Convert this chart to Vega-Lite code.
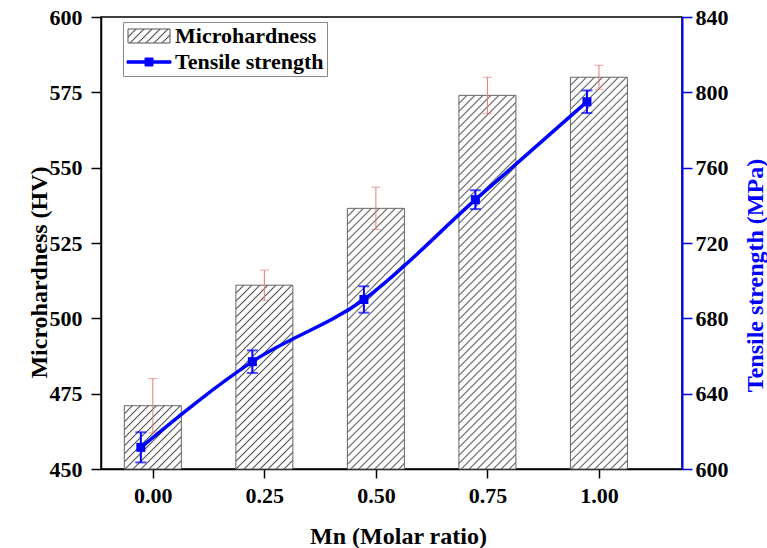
{
  "$schema": "https://vega.github.io/schema/vega-lite/v6.json",
  "width": 581,
  "height": 452,
  "autosize": "none",
  "padding": {"left": 101, "top": 17, "right": 85, "bottom": 79},
  "background": "white",
  "config": {"view": {"stroke": "black", "strokeWidth": 1.5}, "font": "Liberation Serif"},
  "params": [
    {
      "name": "hatch",
      "value": [
        {"offset": 0, "color": "#555"}, {"offset": 0.003, "color": "#fff"}, {"offset": 0.0137, "color": "#fff"},
        {"offset": 0.0167, "color": "#555"}, {"offset": 0.0197, "color": "#fff"}, {"offset": 0.0304, "color": "#fff"},
        {"offset": 0.0333, "color": "#555"}, {"offset": 0.0363, "color": "#fff"}, {"offset": 0.047, "color": "#fff"},
        {"offset": 0.05, "color": "#555"}, {"offset": 0.053, "color": "#fff"}, {"offset": 0.0637, "color": "#fff"},
        {"offset": 0.0667, "color": "#555"}, {"offset": 0.0697, "color": "#fff"}, {"offset": 0.0804, "color": "#fff"},
        {"offset": 0.0833, "color": "#555"}, {"offset": 0.0863, "color": "#fff"}, {"offset": 0.097, "color": "#fff"},
        {"offset": 0.1, "color": "#555"}, {"offset": 0.103, "color": "#fff"}, {"offset": 0.1137, "color": "#fff"},
        {"offset": 0.1167, "color": "#555"}, {"offset": 0.1197, "color": "#fff"}, {"offset": 0.1304, "color": "#fff"},
        {"offset": 0.1333, "color": "#555"}, {"offset": 0.1363, "color": "#fff"}, {"offset": 0.147, "color": "#fff"},
        {"offset": 0.15, "color": "#555"}, {"offset": 0.153, "color": "#fff"}, {"offset": 0.1637, "color": "#fff"},
        {"offset": 0.1667, "color": "#555"}, {"offset": 0.1697, "color": "#fff"}, {"offset": 0.1804, "color": "#fff"},
        {"offset": 0.1833, "color": "#555"}, {"offset": 0.1863, "color": "#fff"}, {"offset": 0.197, "color": "#fff"},
        {"offset": 0.2, "color": "#555"}, {"offset": 0.203, "color": "#fff"}, {"offset": 0.2137, "color": "#fff"},
        {"offset": 0.2167, "color": "#555"}, {"offset": 0.2197, "color": "#fff"}, {"offset": 0.2304, "color": "#fff"},
        {"offset": 0.2333, "color": "#555"}, {"offset": 0.2363, "color": "#fff"}, {"offset": 0.247, "color": "#fff"},
        {"offset": 0.25, "color": "#555"}, {"offset": 0.253, "color": "#fff"}, {"offset": 0.2637, "color": "#fff"},
        {"offset": 0.2667, "color": "#555"}, {"offset": 0.2697, "color": "#fff"}, {"offset": 0.2804, "color": "#fff"},
        {"offset": 0.2833, "color": "#555"}, {"offset": 0.2863, "color": "#fff"}, {"offset": 0.297, "color": "#fff"},
        {"offset": 0.3, "color": "#555"}, {"offset": 0.303, "color": "#fff"}, {"offset": 0.3137, "color": "#fff"},
        {"offset": 0.3167, "color": "#555"}, {"offset": 0.3197, "color": "#fff"}, {"offset": 0.3304, "color": "#fff"},
        {"offset": 0.3333, "color": "#555"}, {"offset": 0.3363, "color": "#fff"}, {"offset": 0.347, "color": "#fff"},
        {"offset": 0.35, "color": "#555"}, {"offset": 0.353, "color": "#fff"}, {"offset": 0.3637, "color": "#fff"},
        {"offset": 0.3667, "color": "#555"}, {"offset": 0.3697, "color": "#fff"}, {"offset": 0.3804, "color": "#fff"},
        {"offset": 0.3833, "color": "#555"}, {"offset": 0.3863, "color": "#fff"}, {"offset": 0.397, "color": "#fff"},
        {"offset": 0.4, "color": "#555"}, {"offset": 0.403, "color": "#fff"}, {"offset": 0.4137, "color": "#fff"},
        {"offset": 0.4167, "color": "#555"}, {"offset": 0.4197, "color": "#fff"}, {"offset": 0.4304, "color": "#fff"},
        {"offset": 0.4333, "color": "#555"}, {"offset": 0.4363, "color": "#fff"}, {"offset": 0.447, "color": "#fff"},
        {"offset": 0.45, "color": "#555"}, {"offset": 0.453, "color": "#fff"}, {"offset": 0.4637, "color": "#fff"},
        {"offset": 0.4667, "color": "#555"}, {"offset": 0.4697, "color": "#fff"}, {"offset": 0.4804, "color": "#fff"},
        {"offset": 0.4833, "color": "#555"}, {"offset": 0.4863, "color": "#fff"}, {"offset": 0.497, "color": "#fff"},
        {"offset": 0.5, "color": "#555"}, {"offset": 0.503, "color": "#fff"}, {"offset": 0.5137, "color": "#fff"},
        {"offset": 0.5167, "color": "#555"}, {"offset": 0.5197, "color": "#fff"}, {"offset": 0.5304, "color": "#fff"},
        {"offset": 0.5333, "color": "#555"}, {"offset": 0.5363, "color": "#fff"}, {"offset": 0.547, "color": "#fff"},
        {"offset": 0.55, "color": "#555"}, {"offset": 0.553, "color": "#fff"}, {"offset": 0.5637, "color": "#fff"},
        {"offset": 0.5667, "color": "#555"}, {"offset": 0.5697, "color": "#fff"}, {"offset": 0.5804, "color": "#fff"},
        {"offset": 0.5833, "color": "#555"}, {"offset": 0.5863, "color": "#fff"}, {"offset": 0.597, "color": "#fff"},
        {"offset": 0.6, "color": "#555"}, {"offset": 0.603, "color": "#fff"}, {"offset": 0.6137, "color": "#fff"},
        {"offset": 0.6167, "color": "#555"}, {"offset": 0.6197, "color": "#fff"}, {"offset": 0.6304, "color": "#fff"},
        {"offset": 0.6333, "color": "#555"}, {"offset": 0.6363, "color": "#fff"}, {"offset": 0.647, "color": "#fff"},
        {"offset": 0.65, "color": "#555"}, {"offset": 0.653, "color": "#fff"}, {"offset": 0.6637, "color": "#fff"},
        {"offset": 0.6667, "color": "#555"}, {"offset": 0.6697, "color": "#fff"}, {"offset": 0.6804, "color": "#fff"},
        {"offset": 0.6833, "color": "#555"}, {"offset": 0.6863, "color": "#fff"}, {"offset": 0.697, "color": "#fff"},
        {"offset": 0.7, "color": "#555"}, {"offset": 0.703, "color": "#fff"}, {"offset": 0.7137, "color": "#fff"},
        {"offset": 0.7167, "color": "#555"}, {"offset": 0.7197, "color": "#fff"}, {"offset": 0.7304, "color": "#fff"},
        {"offset": 0.7333, "color": "#555"}, {"offset": 0.7363, "color": "#fff"}, {"offset": 0.747, "color": "#fff"},
        {"offset": 0.75, "color": "#555"}, {"offset": 0.753, "color": "#fff"}, {"offset": 0.7637, "color": "#fff"},
        {"offset": 0.7667, "color": "#555"}, {"offset": 0.7697, "color": "#fff"}, {"offset": 0.7804, "color": "#fff"},
        {"offset": 0.7833, "color": "#555"}, {"offset": 0.7863, "color": "#fff"}, {"offset": 0.797, "color": "#fff"},
        {"offset": 0.8, "color": "#555"}, {"offset": 0.803, "color": "#fff"}, {"offset": 0.8137, "color": "#fff"},
        {"offset": 0.8167, "color": "#555"}, {"offset": 0.8197, "color": "#fff"}, {"offset": 0.8304, "color": "#fff"},
        {"offset": 0.8333, "color": "#555"}, {"offset": 0.8363, "color": "#fff"}, {"offset": 0.847, "color": "#fff"},
        {"offset": 0.85, "color": "#555"}, {"offset": 0.853, "color": "#fff"}, {"offset": 0.8637, "color": "#fff"},
        {"offset": 0.8667, "color": "#555"}, {"offset": 0.8697, "color": "#fff"}, {"offset": 0.8804, "color": "#fff"},
        {"offset": 0.8833, "color": "#555"}, {"offset": 0.8863, "color": "#fff"}, {"offset": 0.897, "color": "#fff"},
        {"offset": 0.9, "color": "#555"}, {"offset": 0.903, "color": "#fff"}, {"offset": 0.9137, "color": "#fff"},
        {"offset": 0.9167, "color": "#555"}, {"offset": 0.9197, "color": "#fff"}, {"offset": 0.9304, "color": "#fff"},
        {"offset": 0.9333, "color": "#555"}, {"offset": 0.9363, "color": "#fff"}, {"offset": 0.947, "color": "#fff"},
        {"offset": 0.95, "color": "#555"}, {"offset": 0.953, "color": "#fff"}, {"offset": 0.9637, "color": "#fff"},
        {"offset": 0.9667, "color": "#555"}, {"offset": 0.9697, "color": "#fff"}, {"offset": 0.9804, "color": "#fff"},
        {"offset": 0.9833, "color": "#555"}, {"offset": 0.9863, "color": "#fff"}, {"offset": 0.997, "color": "#fff"},
        {"offset": 1, "color": "#555"}
      ]
    }
  ],
  "data": {
    "values": [
      {"mn": 0, "hv": 471, "hv_err": 9, "ts": 611.5, "ts_err": 8},
      {"mn": 0.25, "hv": 511, "hv_err": 5, "ts": 657, "ts_err": 6},
      {"mn": 0.5, "hv": 536.5, "hv_err": 7, "ts": 690, "ts_err": 7},
      {"mn": 0.75, "hv": 574, "hv_err": 6, "ts": 743, "ts_err": 5},
      {"mn": 1, "hv": 580, "hv_err": 4, "ts": 795, "ts_err": 6}
    ]
  },
  "layer": [
    {
      "layer": [
        {
          "mark": {
            "type": "bar",
            "size": 57,
            "stroke": "#666666",
            "strokeWidth": 1,
            "fill": {"expr": "{'gradient': 'linear', 'x1': 0, 'y1': 0, 'x2': 27360 / (3249 + pow((datum.hv - 450) * 3.0133, 2)), 'y2': (datum.hv - 450) * 1446.4 / (3249 + pow((datum.hv - 450) * 3.0133, 2)), 'stops': hatch}"}
          },
          "encoding": {
            "x": {
              "field": "mn",
              "type": "quantitative",
              "scale": {"domain": [-0.105, 1.175], "nice": false, "zero": false},
              "axis": {
                "title": "Mn (Molar ratio)",
                "values": [0, 0.25, 0.5, 0.75, 1],
                "format": ".2f",
                "grid": false,
                "tickSize": 9,
                "tickWidth": 1.5,
                "tickColor": "black",
                "domainColor": "black",
                "domainWidth": 1.5,
                "labelFont": "Liberation Serif",
                "labelFontWeight": "bold",
                "labelFontSize": 22,
                "labelColor": "black",
                "labelPadding": 7,
                "titleFont": "Liberation Serif",
                "titleFontWeight": "bold",
                "titleFontSize": 24,
                "titleColor": "black",
                "titleX": 297,
                "titleY": 74,
                "titleAlign": "center",
                "titleBaseline": "alphabetic"
              }
            },
            "y": {
              "field": "hv",
              "type": "quantitative",
              "scale": {"domain": [450, 600], "nice": false, "zero": false},
              "axis": {
                "title": "Microhardness (HV)",
                "orient": "left",
                "values": [450, 462.5, 475, 487.5, 500, 512.5, 525, 537.5, 550, 562.5, 575, 587.5, 600],
                "format": "d",
                "labelExpr": "datum.value % 25 === 0 ? datum.label : ''",
                "grid": false,
                "tickSize": {"condition": {"test": "datum.value % 25 === 0", "value": 10}, "value": 6},
                "tickWidth": 1.5,
                "tickColor": "black",
                "domainColor": "black",
                "domainWidth": 1.5,
                "labelFont": "Liberation Serif",
                "labelFontWeight": "bold",
                "labelFontSize": 22,
                "labelColor": "black",
                "labelPadding": 9,
                "labelOverlap": false,
                "labelBound": false,
                "titleFont": "Liberation Serif",
                "titleFontWeight": "bold",
                "titleFontSize": 24,
                "titleColor": "black",
                "titleAngle": -90,
                "titleX": -50,
                "titleY": 255,
                "titleAlign": "center",
                "titleBaseline": "bottom"
              }
            },
            "y2": {"datum": 450}
          }
        },
        {
          "mark": {"type": "errorbar", "color": "#e07a7a", "thickness": 1, "size": 9, "ticks": true},
          "encoding": {
            "x": {"field": "mn", "type": "quantitative"},
            "y": {"field": "hv", "type": "quantitative", "title": "Microhardness (HV)"},
            "yError": {"field": "hv_err"}
          }
        }
      ]
    },
    {
      "layer": [
        {
          "mark": {"type": "line", "interpolate": "monotone", "strokeWidth": 3.5, "xOffset": -12},
          "encoding": {
            "x": {"field": "mn", "type": "quantitative"},
            "y": {
              "field": "ts",
              "type": "quantitative",
              "title": "Tensile strength (MPa)",
              "scale": {"domain": [600, 840], "nice": false, "zero": false},
              "axis": {
                "orient": "right",
                "values": [600, 620, 640, 660, 680, 700, 720, 740, 760, 780, 800, 820, 840],
                "format": "d",
                "labelExpr": "datum.value % 40 === 0 ? datum.label : ''",
                "grid": false,
                "tickSize": {"condition": {"test": "datum.value % 40 === 0", "value": 10}, "value": 5},
                "tickWidth": 1.5,
                "tickColor": "#0000ff",
                "domainColor": "#0000ff",
                "domainWidth": 2,
                "labelFont": "Liberation Serif",
                "labelFontWeight": "bold",
                "labelFontSize": 22,
                "labelColor": "black",
                "labelPadding": 3,
                "labelOverlap": false,
                "labelBound": false,
                "titleFont": "Liberation Serif",
                "titleFontWeight": "bold",
                "titleFontSize": 24,
                "titleColor": "#0000ff",
                "titleAngle": -90,
                "titleX": 85,
                "titleY": 258,
                "titleAlign": "center",
                "titleBaseline": "bottom"
              }
            },
            "stroke": {
              "datum": "Tensile strength",
              "type": "nominal",
              "scale": {"domain": ["Microhardness", "Tensile strength"], "range": ["#555555", "#0000ff"]},
              "legend": {
                "orient": "none",
                "legendX": 22,
                "legendY": 5,
                "title": null,
                "padding": 3,
                "rowPadding": 4,
                "symbolSize": 400,
                "symbolStrokeWidth": 1,
                "labelOffset": 27,
                "labelFont": "Liberation Serif",
                "labelFontSize": 22,
                "labelFontWeight": "bold",
                "labelColor": "black",
                "strokeColor": "#888888",
                "fillColor": "white",
                "encode": {
                  "symbols": {
                    "update": {
                      "shape": {"signal": "datum.value === 'Microhardness' ? 'M-0.9,-0.7H3.3V0.7H-0.9Z' : 'M-1,-0.12H3.4V0.12H-1ZM0.8,-0.4H1.6V0.4H0.8Z'"},
                      "fill": {"signal": "datum.value === 'Microhardness' ? {'gradient': 'linear', 'x1': 0, 'y1': 0, 'x2': 10.286, 'y2': 3.429, 'stops': hatch} : '#0000ff'"},
                      "strokeWidth": {"value": 1},
                      "opacity": {"value": 1}
                    }
                  }
                }
              }
            }
          }
        },
        {
          "mark": {
            "type": "errorbar",
            "color": "#0000ff",
            "thickness": 2,
            "size": 11,
            "rule": {"xOffset": -12, "strokeWidth": 2},
            "ticks": {"xOffset": -12, "thickness": 2}
          },
          "encoding": {
            "x": {"field": "mn", "type": "quantitative"},
            "y": {"field": "ts", "type": "quantitative", "title": "Tensile strength (MPa)"},
            "yError": {"field": "ts_err"}
          }
        },
        {
          "mark": {"type": "point", "shape": "square", "filled": true, "size": 81, "color": "#0000ff", "opacity": 1, "xOffset": -12},
          "encoding": {
            "x": {"field": "mn", "type": "quantitative"},
            "y": {"field": "ts", "type": "quantitative", "title": "Tensile strength (MPa)"}
          }
        }
      ]
    }
  ],
  "resolve": {"scale": {"y": "independent"}}
}
